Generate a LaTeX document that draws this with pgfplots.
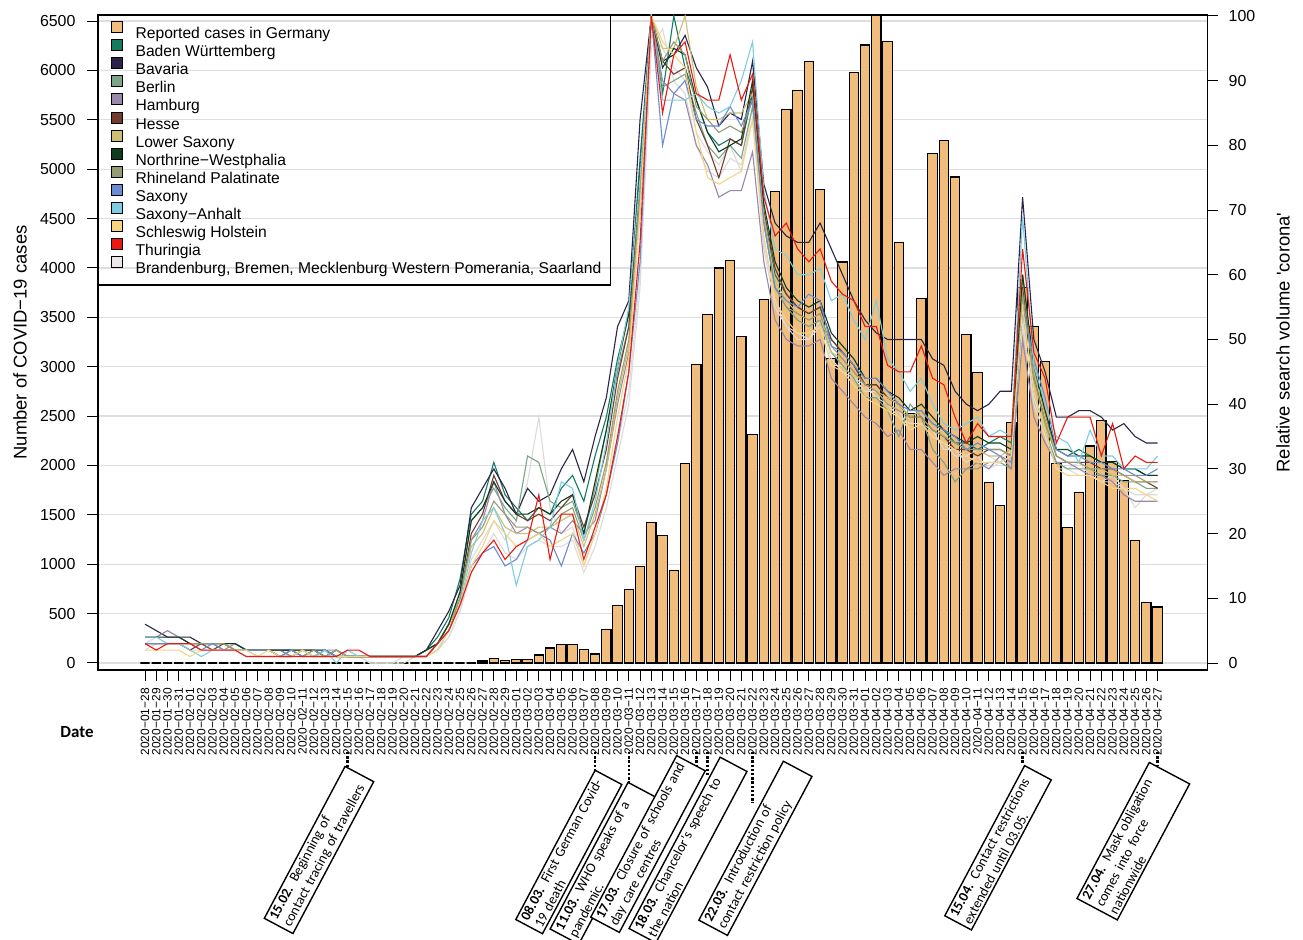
\documentclass[border=0pt]{standalone}
\usepackage{fontspec}
\setmainfont{Liberation Sans}
\newfontfamily\calibri{Carlito}
\usepackage{pgfplots}
\usepackage{pgfplotstable}
\pgfplotsset{compat=1.18}

\definecolor{barc}{RGB}{241,189,124}
\definecolor{gridc}{RGB}{222,222,222}
\definecolor{bwc}{RGB}{20,122,96}
\definecolor{byc}{RGB}{42,36,72}
\definecolor{bec}{RGB}{122,165,135}
\definecolor{hhc}{RGB}{152,136,170}
\definecolor{hec}{RGB}{115,60,45}
\definecolor{nic}{RGB}{205,190,115}
\definecolor{nwc}{RGB}{15,60,30}
\definecolor{rpc}{RGB}{150,155,115}
\definecolor{snc}{RGB}{105,140,210}
\definecolor{stc}{RGB}{125,205,225}
\definecolor{shc}{RGB}{245,213,128}
\definecolor{thc}{RGB}{235,25,15}
\definecolor{othc}{RGB}{236,232,232}
\definecolor{othl}{RGB}{222,218,218}

% daily reported cases, 2020-01-28 .. 2020-04-27
\pgfplotstableread[row sep=\\]{y\\
0\\0\\0\\0\\0\\0\\0\\0\\0\\0\\0\\0\\0\\0\\0\\0\\0\\0\\0\\0\\0\\0\\0\\0\\0\\0\\0\\0\\0\\0\\
20\\50\\25\\37\\37\\81\\152\\185\\185\\141\\91\\337\\580\\745\\975\\1425\\1287\\938\\2023\\3023\\
3533\\3999\\4078\\3304\\2316\\3678\\4776\\5602\\5800\\6090\\4794\\3085\\4060\\5976\\6257\\6555\\6290\\4253\\2527\\3691\\
5163\\5290\\4921\\3326\\2944\\1832\\1595\\2434\\3800\\3405\\3049\\2020\\1371\\1722\\2197\\2452\\2043\\1845\\1243\\611\\567\\
}\cases

% relative search volume 'corona' per state
\pgfplotstableread[row sep=\\]{y\\
3\\3\\3\\3\\3\\3\\3\\3\\2\\2\\2\\2\\2\\2\\1\\2\\1\\2\\1\\1\\1\\1\\1\\1\\1\\2\\4\\7\\13\\
23\\25\\31\\26\\24\\22\\24\\23\\27\\29\\25\\32\\38\\47\\54\\78\\
100\\88\\100\\92\\87\\82\\80\\81\\80\\88\\69\\60\\57\\55\\54\\55\\
50\\48\\46\\43\\43\\41\\40\\38\\39\\37\\36\\34\\34\\33\\34\\35\\
34\\60\\45\\38\\33\\32\\33\\32\\31\\31\\30\\30\\29\\29\\
}\bw
\pgfplotstableread[row sep=\\]{y\\
6\\5\\4\\4\\4\\3\\3\\3\\3\\2\\2\\2\\2\\2\\2\\2\\1\\2\\1\\1\\1\\1\\1\\1\\1\\2\\5\\8\\12\\
24\\27\\30\\27\\23\\27\\25\\26\\30\\33\\28\\35\\41\\52\\56\\84\\
100\\93\\94\\97\\92\\89\\83\\85\\84\\93\\74\\68\\66\\65\\65\\68\\
64\\60\\56\\53\\51\\50\\50\\50\\50\\47\\46\\42\\40\\39\\40\\42\\
42\\72\\50\\45\\38\\38\\39\\39\\38\\36\\37\\35\\34\\34\\
}\by
\pgfplotstableread[row sep=\\]{y\\
3\\3\\3\\3\\3\\3\\3\\3\\3\\2\\2\\2\\2\\1\\2\\1\\1\\1\\1\\1\\1\\1\\1\\1\\1\\2\\3\\6\\11\\
22\\24\\27\\24\\22\\32\\31\\25\\24\\25\\20\\27\\36\\45\\52\\74\\
100\\89\\90\\91\\85\\80\\78\\80\\78\\86\\68\\58\\55\\53\\52\\53\\
48\\46\\44\\41\\41\\39\\35\\40\\38\\33\\31\\28\\30\\30\\31\\31\\
30\\55\\42\\36\\31\\30\\30\\30\\29\\29\\28\\28\\27\\27\\
}\be
\pgfplotstableread[row sep=\\]{y\\
4\\4\\5\\4\\3\\3\\3\\2\\3\\2\\2\\2\\2\\1\\2\\2\\2\\2\\1\\1\\1\\1\\1\\1\\1\\1\\3\\6\\10\\
19\\22\\28\\23\\20\\21\\20\\21\\20\\22\\20\\22\\30\\40\\48\\70\\
100\\90\\88\\87\\80\\77\\72\\73\\73\\79\\62\\53\\50\\49\\49\\50\\
44\\42\\40\\38\\37\\35\\36\\33\\33\\31\\29\\30\\30\\31\\30\\32\\
30\\50\\38\\34\\31\\31\\30\\29\\29\\28\\26\\25\\25\\25\\
}\hh
\pgfplotstableread[row sep=\\]{y\\
3\\3\\3\\3\\2\\3\\2\\3\\2\\2\\2\\2\\1\\1\\2\\1\\2\\1\\1\\1\\1\\1\\1\\1\\1\\2\\3\\6\\10\\
20\\23\\29\\25\\23\\22\\23\\22\\24\\26\\21\\26\\33\\44\\52\\75\\
100\\93\\91\\92\\84\\80\\75\\81\\80\\89\\70\\61\\57\\55\\54\\55\\
50\\48\\46\\43\\43\\41\\40\\38\\38\\36\\35\\33\\33\\32\\33\\33\\
32\\58\\44\\38\\32\\31\\31\\31\\30\\30\\29\\28\\28\\27\\
}\he
\pgfplotstableread[row sep=\\]{y\\
3\\3\\3\\3\\3\\3\\3\\3\\2\\2\\2\\2\\1\\2\\2\\1\\1\\2\\1\\1\\1\\1\\1\\1\\1\\1\\3\\6\\10\\
18\\20\\24\\21\\20\\20\\21\\21\\22\\23\\18\\23\\30\\41\\49\\72\\
100\\95\\95\\100\\89\\84\\84\\85\\85\\88\\69\\59\\56\\54\\53\\54\\
48\\47\\45\\43\\42\\41\\40\\38\\39\\37\\35\\34\\33\\33\\32\\32\\
33\\60\\45\\38\\32\\31\\31\\30\\30\\29\\29\\28\\28\\28\\
}\ni
\pgfplotstableread[row sep=\\]{y\\
4\\4\\4\\4\\3\\3\\3\\3\\3\\2\\2\\2\\2\\2\\2\\2\\2\\1\\1\\1\\1\\1\\1\\1\\1\\2\\3\\6\\11\\
22\\24\\28\\25\\23\\23\\24\\23\\25\\26\\20\\28\\36\\46\\54\\76\\
100\\92\\95\\94\\87\\82\\79\\80\\81\\90\\71\\62\\58\\56\\55\\56\\
51\\49\\47\\44\\44\\42\\41\\39\\40\\38\\36\\35\\34\\35\\34\\34\\
33\\60\\46\\39\\33\\33\\32\\32\\31\\31\\30\\30\\29\\29\\
}\nw
\pgfplotstableread[row sep=\\]{y\\
3\\3\\3\\3\\3\\3\\3\\3\\2\\2\\2\\2\\1\\2\\1\\2\\1\\2\\1\\1\\1\\1\\1\\1\\1\\1\\3\\5\\10\\
19\\21\\25\\23\\21\\21\\20\\21\\23\\24\\19\\24\\31\\42\\50\\73\\
100\\93\\96\\94\\86\\84\\82\\83\\82\\87\\68\\58\\55\\54\\53\\54\\
49\\47\\45\\43\\42\\40\\39\\38\\38\\36\\35\\34\\33\\33\\33\\33\\
32\\57\\44\\37\\32\\31\\31\\30\\30\\30\\29\\29\\28\\28\\
}\rp
\pgfplotstableread[row sep=\\]{y\\
3\\3\\3\\3\\3\\2\\3\\2\\2\\2\\2\\2\\1\\2\\1\\1\\2\\1\\1\\1\\1\\1\\1\\1\\1\\1\\3\\5\\9\\
15\\17\\18\\15\\16\\19\\20\\19\\15\\20\\17\\20\\26\\34\\45\\62\\
100\\80\\88\\90\\84\\83\\83\\86\\83\\87\\68\\58\\56\\55\\57\\56\\
49\\48\\46\\44\\44\\42\\40\\39\\39\\37\\36\\35\\33\\34\\33\\32\\
31\\55\\47\\41\\33\\32\\32\\31\\31\\30\\30\\29\\29\\30\\
}\sn
\pgfplotstableread[row sep=\\]{y\\
4\\4\\3\\3\\2\\1\\2\\2\\2\\2\\1\\1\\1\\1\\2\\1\\2\\0\\2\\1\\1\\1\\1\\1\\1\\1\\2\\5\\9\\
17\\22\\24\\20\\12\\18\\19\\21\\28\\27\\19\\25\\34\\46\\55\\75\\
100\\87\\87\\87\\88\\86\\85\\86\\90\\96\\73\\64\\63\\60\\60\\61\\
56\\57\\53\\50\\56\\47\\45\\42\\44\\40\\37\\36\\37\\38\\35\\36\\
35\\69\\46\\40\\35\\34\\31\\36\\32\\32\\30\\30\\30\\32\\
}\st
\pgfplotstableread[row sep=\\]{y\\
2\\2\\2\\2\\1\\2\\2\\2\\2\\2\\1\\2\\1\\1\\2\\1\\1\\1\\1\\1\\1\\1\\1\\1\\1\\1\\2\\5\\9\\
15\\18\\22\\20\\18\\19\\20\\18\\19\\20\\15\\20\\27\\38\\47\\70\\
100\\96\\94\\92\\82\\75\\74\\75\\76\\84\\66\\56\\53\\51\\51\\52\\
46\\45\\43\\41\\40\\39\\38\\36\\37\\35\\34\\33\\32\\31\\31\\31\\
32\\55\\42\\36\\30\\29\\29\\29\\28\\27\\27\\27\\26\\25\\
}\sh
\pgfplotstableread[row sep=\\]{y\\
3\\2\\3\\3\\3\\2\\2\\2\\2\\1\\1\\1\\1\\1\\1\\1\\1\\1\\2\\2\\1\\1\\1\\1\\1\\1\\3\\5\\9\\
14\\17\\19\\16\\18\\19\\26\\16\\23\\23\\16\\21\\26\\35\\45\\65\\
100\\85\\94\\96\\88\\87\\87\\94\\87\\91\\72\\66\\68\\64\\62\\64\\
59\\57\\56\\52\\52\\46\\45\\45\\49\\44\\43\\38\\34\\37\\35\\35\\
35\\64\\48\\44\\34\\38\\38\\38\\32\\37\\30\\32\\31\\31\\
}\th
\pgfplotstableread[row sep=\\]{y\\
3\\4\\5\\4\\3\\3\\3\\2\\2\\2\\2\\2\\2\\1\\2\\1\\1\\1\\1\\1\\0\\0\\0\\1\\1\\1\\2\\4\\8\\
16\\19\\22\\19\\22\\28\\38\\24\\20\\21\\15\\20\\26\\34\\42\\60\\
97\\95\\92\\90\\82\\79\\77\\80\\76\\86\\65\\56\\52\\51\\50\\53\\
47\\45\\44\\42\\42\\40\\38\\37\\37\\35\\34\\32\\32\\33\\32\\31\\
32\\52\\41\\36\\31\\30\\31\\29\\28\\29\\27\\24\\26\\27\\
}\gone
\pgfplotstableread[row sep=\\]{y\\
2\\3\\3\\3\\2\\2\\2\\2\\2\\1\\1\\1\\1\\1\\1\\1\\1\\1\\1\\1\\0\\0\\0\\0\\1\\1\\2\\4\\8\\
14\\17\\20\\17\\16\\18\\19\\18\\18\\19\\14\\18\\24\\32\\40\\58\\
95\\98\\90\\88\\80\\76\\75\\78\\77\\84\\64\\55\\52\\50\\50\\52\\
46\\46\\44\\43\\41\\40\\39\\36\\37\\36\\33\\33\\31\\32\\30\\31\\
33\\53\\40\\35\\30\\30\\29\\29\\28\\28\\27\\26\\26\\26\\
}\gtwo

\pgfplotsset{
  common/.style={
    at={(98bp,270bp)}, anchor=south west,
    scale only axis, width=1109bp, height=655bp,
    xmin=-4.18, xmax=94.4,
    axis line style={line width=1.2bp},
    tick align=outside, major tick length=11bp,
    tick style={line width=1bp, black},
    y tick label style={font=\fontsize{16}{16}\selectfont},
    /pgf/number format/assume math mode=true,
    /pgf/number format/set thousands separator={},
  },
}

\begin{document}
\begin{tikzpicture}
\path[use as bounding box] (0bp,0bp) rectangle (1303bp,940bp);

\begin{axis}[common,
  ymin=-70.9, ymax=6561,
  xtick pos=left, ytick pos=left,
  xtick={0,...,90},
  xticklabels={2020−01−28,2020−01−29,2020−01−30,2020−01−31,
    2020−02−01,2020−02−02,2020−02−03,2020−02−04,2020−02−05,2020−02−06,2020−02−07,2020−02−08,2020−02−09,2020−02−10,
    2020−02−11,2020−02−12,2020−02−13,2020−02−14,2020−02−15,2020−02−16,2020−02−17,2020−02−18,2020−02−19,2020−02−20,
    2020−02−21,2020−02−22,2020−02−23,2020−02−24,2020−02−25,2020−02−26,2020−02−27,2020−02−28,2020−02−29,
    2020−03−01,2020−03−02,2020−03−03,2020−03−04,2020−03−05,2020−03−06,2020−03−07,2020−03−08,2020−03−09,2020−03−10,
    2020−03−11,2020−03−12,2020−03−13,2020−03−14,2020−03−15,2020−03−16,2020−03−17,2020−03−18,2020−03−19,2020−03−20,
    2020−03−21,2020−03−22,2020−03−23,2020−03−24,2020−03−25,2020−03−26,2020−03−27,2020−03−28,2020−03−29,2020−03−30,2020−03−31,
    2020−04−01,2020−04−02,2020−04−03,2020−04−04,2020−04−05,2020−04−06,2020−04−07,2020−04−08,2020−04−09,2020−04−10,
    2020−04−11,2020−04−12,2020−04−13,2020−04−14,2020−04−15,2020−04−16,2020−04−17,2020−04−18,2020−04−19,2020−04−20,
    2020−04−21,2020−04−22,2020−04−23,2020−04−24,2020−04−25,2020−04−26,2020−04−27},
  x tick label style={rotate=90, anchor=east, font=\fontsize{12}{12}\selectfont, inner xsep=7bp, inner ysep=1bp},
  ytick={0,500,...,6500},
  yticklabel style={xshift=-8bp},
  ymajorgrids, grid style={color=gridc, line width=1.3bp},
  ylabel={Number of COVID−19 cases},
  ylabel style={at={(axis description cs:-0.0703,0.5)}, anchor=center, font=\fontsize{18.5}{18.5}\selectfont},
  ybar, bar width=0.83,
]
\addplot[fill=barc, draw=black, line width=1.1bp] table[x expr=\coordindex, y=y] {\cases};
\end{axis}

\begin{axis}[common,
  ymin=-1.08, ymax=100.15,
  axis x line=none, axis y line*=right,
  ytick={0,10,...,100},
  yticklabel style={xshift=7bp},
  ylabel={Relative search volume \textquotesingle corona\textquotesingle},
  ylabel style={at={(axis description cs:1.0685,0.5)}, anchor=center, font=\fontsize{18.5}{18.5}\selectfont},
  legend style={at={(0,1)}, anchor=north west, draw=black, line width=1.2bp, fill=none,
    inner xsep=9bp, inner ysep=8bp, font=\fontsize{15.7}{15.7}\selectfont, row sep=0pt,
    nodes={inner sep=0pt, text height=15bp, text depth=3.1bp},
    /tikz/every odd column/.append style={column sep=13bp}},
  legend cell align=left,
  legend image code/.code={\path[draw=none, fill=none] (0bp,3bp) (15bp,3bp);
    \draw[#1, draw=black, line width=0.8bp, overlay] (4bp,0.2bp) rectangle (15bp,11.2bp);},
]
\addplot[othl, mark=none, line width=1.1bp, forget plot] table[x expr=\coordindex, y=y] {\gone};
\addplot[othl, mark=none, line width=1.1bp, forget plot] table[x expr=\coordindex, y=y] {\gtwo};
\addplot[bwc, mark=none, line width=1.1bp, forget plot] table[x expr=\coordindex, y=y] {\bw};
\addplot[byc, mark=none, line width=1.1bp, forget plot] table[x expr=\coordindex, y=y] {\by};
\addplot[bec, mark=none, line width=1.1bp, forget plot] table[x expr=\coordindex, y=y] {\be};
\addplot[hhc, mark=none, line width=1.1bp, forget plot] table[x expr=\coordindex, y=y] {\hh};
\addplot[hec, mark=none, line width=1.1bp, forget plot] table[x expr=\coordindex, y=y] {\he};
\addplot[nic, mark=none, line width=1.1bp, forget plot] table[x expr=\coordindex, y=y] {\ni};
\addplot[nwc, mark=none, line width=1.1bp, forget plot] table[x expr=\coordindex, y=y] {\nw};
\addplot[rpc, mark=none, line width=1.1bp, forget plot] table[x expr=\coordindex, y=y] {\rp};
\addplot[snc, mark=none, line width=1.1bp, forget plot] table[x expr=\coordindex, y=y] {\sn};
\addplot[stc, mark=none, line width=1.1bp, forget plot] table[x expr=\coordindex, y=y] {\st};
\addplot[shc, mark=none, line width=1.1bp, forget plot] table[x expr=\coordindex, y=y] {\sh};
\addplot[thc, mark=none, line width=1.1bp, forget plot] table[x expr=\coordindex, y=y] {\th};

\addlegendimage{fill=barc} \addlegendentry{Reported cases in Germany}
\addlegendimage{fill=bwc} \addlegendentry{Baden Württemberg}
\addlegendimage{fill=byc} \addlegendentry{Bavaria}
\addlegendimage{fill=bec} \addlegendentry{Berlin}
\addlegendimage{fill=hhc} \addlegendentry{Hamburg}
\addlegendimage{fill=hec} \addlegendentry{Hesse}
\addlegendimage{fill=nic} \addlegendentry{Lower Saxony}
\addlegendimage{fill=nwc} \addlegendentry{Northrine−Westphalia}
\addlegendimage{fill=rpc} \addlegendentry{Rhineland Palatinate}
\addlegendimage{fill=snc} \addlegendentry{Saxony}
\addlegendimage{fill=stc} \addlegendentry{Saxony−Anhalt}
\addlegendimage{fill=shc} \addlegendentry{Schleswig Holstein}
\addlegendimage{fill=thc} \addlegendentry{Thuringia}
\addlegendimage{fill=othc} \addlegendentry{Brandenburg, Bremen, Mecklenburg Western Pomerania, Saarland}
\end{axis}

\node[font=\calibri\bfseries\fontsize{17}{17}\selectfont] at (77bp,208bp) {Date};

\tikzset{
  ann/.style={draw=black, line width=1.4bp, fill=white, rotate=62, align=left,
    font=\calibri\fontsize{14}{15.5}\selectfont, inner xsep=4bp, inner ysep=2.5bp},
  dl/.style={line width=2.4bp, dash pattern=on 2.4bp off 1.8bp},
}
\draw[dl] (347.5bp,188bp) -- (347.5bp,172bp);
\draw[dl] (595bp,188bp) -- (595bp,154bp);
\draw[dl] (628.7bp,188bp) -- (628.7bp,140bp);
\draw[dl] (696.3bp,188bp) -- (696.3bp,172bp);
\draw[dl] (707.5bp,188bp) -- (707.5bp,164bp);
\draw[dl] (752.5bp,188bp) -- (752.5bp,137bp);
\draw[dl] (1022.5bp,188bp) -- (1022.5bp,176bp);
\draw[dl] (1157.5bp,188bp) -- (1157.5bp,175bp);

\node[ann, text width=164bp] at (319bp,90bp) {\textbf{15.02.} Beginning of\\contact tracing of travellers};
\node[ann, text width=161bp] at (568.8bp,88bp) {\textbf{08.03.} First German Covid-\\19 death};
\node[ann, text width=158bp] at (603.4bp,76.7bp) {\textbf{11.03.} WHO speaks of a\\pandemic.};
\node[ann, text width=175bp] at (648bp,96bp) {\textbf{17.03.} Closure of schools and\\day care centres};
\node[ann, text width=186bp] at (688bp,90bp) {\textbf{18.03.} Chancelor’s speech to\\the nation};
\node[ann, text width=172bp] at (755.4bp,91.7bp) {\textbf{22.03.} Introduction of\\contact restriction policy};
\node[ann, text width=162bp] at (998bp,92.2bp) {\textbf{15.04.} Contact restrictions\\extended until 03.05.};
\node[ann, text width=146bp] at (1133.3bp,98.8bp) {\textbf{27.04.} Mask obligation\\comes into force\\nationwide};
\end{tikzpicture}
\end{document}
